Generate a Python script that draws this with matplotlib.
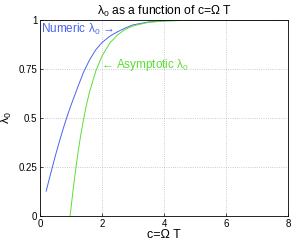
import matplotlib
matplotlib.use("Agg")
import matplotlib.pyplot as plt

plt.rcParams['font.family'] = ['Liberation Sans', 'DejaVu Sans']
plt.rcParams['mathtext.fontset'] = 'custom'
plt.rcParams['mathtext.rm'] = 'Liberation Sans'
plt.rcParams['mathtext.it'] = 'Liberation Sans'

# numeric lambda_0
c_num = [0.2, 0.3, 0.4, 0.5, 0.6, 0.7, 0.8, 0.9, 1.0, 1.2, 1.4, 1.6, 1.8, 2.0,
         2.25, 2.5, 2.75, 3.0, 3.5, 4.0, 5.0, 6.0, 8.0]
lam_num = [0.127, 0.19, 0.25, 0.31, 0.366, 0.42, 0.472, 0.52, 0.565, 0.65, 0.732,
           0.797, 0.848, 0.885, 0.917, 0.94, 0.959, 0.975, 0.99, 0.996, 0.9994,
           0.9999, 1.0]

# asymptotic lambda_0
c_asy = [0.97, 1.0, 1.1, 1.2, 1.3, 1.4, 1.5, 1.6, 1.8, 2.0, 2.25, 2.5, 2.75, 3.0,
         3.5, 4.0, 5.0, 6.0, 8.0]
lam_asy = [0.0, 0.04, 0.176, 0.295, 0.40, 0.49, 0.568, 0.634, 0.74, 0.816, 0.882,
           0.924, 0.952, 0.97, 0.988, 0.995, 0.9993, 0.9999, 1.0]

blue = '#4a63f0'
green = '#5ddd33'

fig = plt.figure(figsize=(2.93, 2.41), dpi=100)
ax = fig.add_axes([0.1365, 0.1037, 0.8465, 0.8133])

ax.plot(c_num, lam_num, color=blue, lw=0.7)
ax.plot(c_asy, lam_asy, color=green, lw=0.7)

ax.set_xlim(0, 8)
ax.set_ylim(0, 1)
ax.set_xticks([0, 2, 4, 6, 8])
ax.set_yticks([0, 0.25, 0.5, 0.75, 1])
ax.set_yticklabels(['0', '0.25', '0.5', '0.75', '1'])
ax.grid(True, color='#bbbbbb', linestyle=':', linewidth=0.6)
ax.tick_params(direction='in', length=2, width=0.5, labelsize=7, pad=2)
for s in ax.spines.values():
    s.set_linewidth(0.6)

ax.set_title('$\\mathregular{\\lambda_0}$ as a function of c=Ω T',
             fontsize=8.7, pad=4)
ax.set_xlabel('c=Ω T', fontsize=9, labelpad=0)
ax.set_ylabel('$\\mathregular{\\lambda_0}$', fontsize=9, labelpad=3)

ax.text(0.03, 0.95, 'Numeric $\\mathregular{\\lambda_0}$ →', color=blue,
        fontsize=8.5, va='center', ha='left')
ax.text(1.97, 0.77, '← Asymptotic $\\mathregular{\\lambda_0}$', color=green,
        fontsize=8.5, va='center', ha='left')

fig.savefig('out.png', dpi=100)
